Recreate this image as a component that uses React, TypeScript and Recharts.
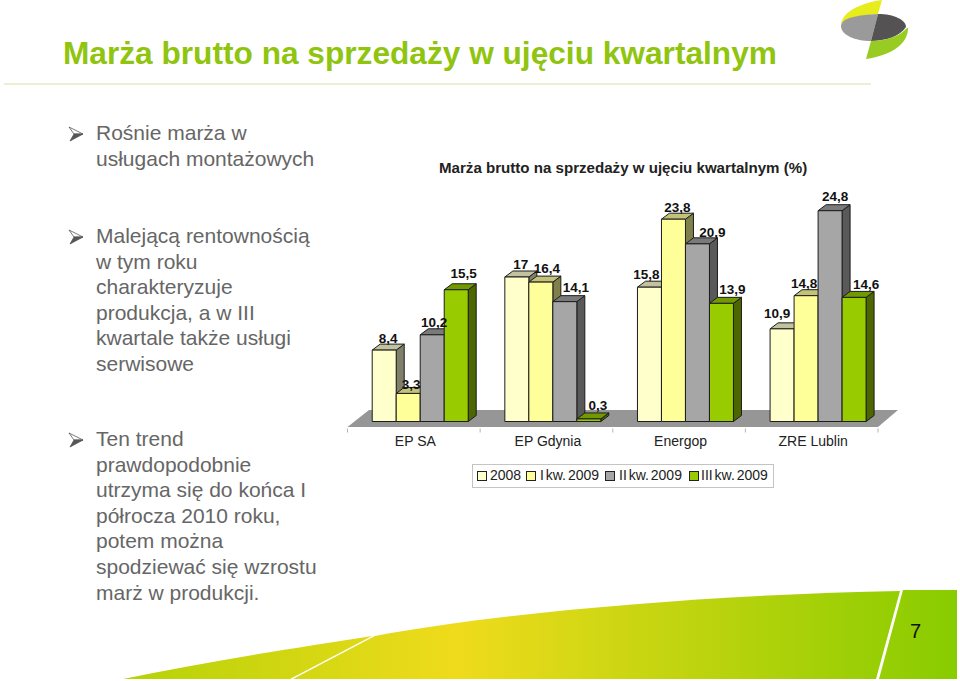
import React from "react";
import { Bar, BarChart, LabelList, XAxis, YAxis } from "recharts";

const TITLE = "Marża brutto na sprzedaży w ujęciu kwartalnym";
const CHART_TITLE = "Marża brutto na sprzedaży w ujęciu kwartalnym (%)";
const PAGE_NUMBER = "7";

const COMPANIES = ["EP SA", "EP Gdynia", "Energop", "ZRE Lublin"];
const SERIES_NAMES = ["2008", "I kw. 2009", "II kw. 2009", "III kw. 2009"];
const VALUES_2008 = [8.4, 17, 15.8, 10.9];
const VALUES_Q1 = [3.3, 16.4, 23.8, 14.8];
const VALUES_Q2 = [10.2, 14.1, 20.9, 24.8];
const VALUES_Q3 = [15.5, 0.3, 13.9, 14.6];

const BULLETS = [
  { y: 133, lines: ["Rośnie marża w", "usługach montażowych"] },
  {
    y: 236,
    lines: [
      "Malejącą rentownością",
      "w tym roku",
      "charakteryzuje",
      "produkcja, a w III",
      "kwartale także usługi",
      "serwisowe",
    ],
  },
  {
    y: 439,
    lines: [
      "Ten trend",
      "prawdopodobnie",
      "utrzyma się do końca I",
      "półrocza 2010 roku,",
      "potem można",
      "spodziewać się wzrostu",
      "marż w produkcji.",
    ],
  },
];

const FRONT = ["#FFFFCC", "#FFFF99", "#A6A6A6", "#99CC00"];
const SIDE = ["#80806A", "#80804D", "#595959", "#4D6600"];
const TOP = ["#C2C29E", "#C2C278", "#7A7A7A", "#739900"];

const FONT = "'Liberation Sans', Arial, sans-serif";
const DEPTH_X = 8;
const DEPTH_Y = 6;
const BAR_SHIFT = 6.8; // bars stand in the middle of the floor, right of the label centre

// hand placement of the value labels, [dx, dy] from the bar's top centre
const LABEL_NUDGE = [
  [[4, -12], [4, -13], [-3, -13], [-5, -15.6]],
  [[3, -9.5], [6, -14], [4, -12], [-2, -13]],
  [[2, -13], [11, -15], [15, -12], [5, -14.7]],
  [[7.5, -16.7], [9, -14], [11, -14], [12, -13]],
];

const chartData = COMPANIES.map((name, i) => ({
  name,
  s0: VALUES_2008[i],
  s1: VALUES_Q1[i],
  s2: VALUES_Q2[i],
  s3: VALUES_Q3[i],
}));

function Box3D(props: any) {
  const { x, y, width: w, height: h, series } = props;
  const left = x + BAR_SHIFT;
  const right = left + w;
  const bottom = y + h;
  return (
    <g stroke="#1c1c1c" strokeWidth={1} strokeLinejoin="round">
      <polygon
        points={`${right},${y} ${right + DEPTH_X},${y - DEPTH_Y} ${right + DEPTH_X},${bottom - DEPTH_Y} ${right},${bottom}`}
        fill={SIDE[series]}
      />
      <polygon
        points={`${left},${y} ${right},${y} ${right + DEPTH_X},${y - DEPTH_Y} ${left + DEPTH_X},${y - DEPTH_Y}`}
        fill={TOP[series]}
      />
      <rect x={left} y={y} width={w} height={h} fill={FRONT[series]} />
    </g>
  );
}

function CategoryTick(props: any) {
  const { x, y, payload, index } = props;
  const step = 132.6;
  const isLast = index === COMPANIES.length - 1;
  return (
    <g>
      <line x1={x - step / 2} x2={x - step / 2} y1={y - 1} y2={y + 3} stroke="#b5b5b5" />
      {isLast && (
        <line x1={x + step / 2} x2={x + step / 2} y1={y - 1} y2={y + 3} stroke="#b5b5b5" />
      )}
      <text
        x={x + 1.5}
        y={y + 16}
        textAnchor="middle"
        style={{ fontFamily: FONT, fontSize: 14, fill: "#222" }}
      >
        {payload.value}
      </text>
    </g>
  );
}

function valueLabel(series: number) {
  return function ValueLabel(props: any) {
    const { x, y, width, value, index } = props;
    const [dx, dy] = LABEL_NUDGE[series][index];
    return (
      <text
        x={x + BAR_SHIFT + width / 2 + dx}
        y={y + dy + 5}
        textAnchor="middle"
        style={{ fontFamily: FONT, fontSize: 13.5, fontWeight: 700, fill: "#111" }}
      >
        {String(value).replace(".", ",")}
      </text>
    );
  };
}

function Arrow({ y }: { y: number }) {
  return (
    <svg
      width={18}
      height={18}
      style={{ position: "absolute", left: 67, top: y - 8 }}
    >
      <polygon points="2,2 16,9 7,9" fill="#fff" stroke="#555" strokeWidth={0.8} />
      <polygon points="7,9 16,9 3,16" fill="#555" stroke="#555" strokeWidth={0.8} />
    </svg>
  );
}

function Decorations() {
  return (
    <svg
      width={960}
      height={681}
      style={{ position: "absolute", left: 0, top: 0 }}
    >
      <defs>
        <linearGradient id="swoosh" x1="123" x2="957" y1="0" y2="0" gradientUnits="userSpaceOnUse">
          <stop offset="0" stopColor="#b4d207" />
          <stop offset="0.4" stopColor="#efdb1c" />
          <stop offset="1" stopColor="#88cc00" />
        </linearGradient>
      </defs>
      <line x1={4} x2={871} y1={84} y2={84} stroke="#d3e4a4" strokeWidth={1.2} />
      {/* logo */}
      <path d="M882,0 C862,3 845,10 841,23 C848,19 862,15 878,14 Z" fill="#e7ec1c" />
      <path d="M878,14 C857,15 841,18 841,26 C841,35 855,41 871,41 Z" fill="#9a9a9a" />
      <path d="M878,14 C894,14 906,20 906,27 C900,36 886,41 871,41 Z" fill="#555254" />
      <path d="M908,28 C908,44 892,55 866,59 L871,41 C886,41 900,36 907,28 Z" fill="#99cc22" />
      {/* floor swoosh */}
      <path
        d="M123,679 C205,662 295,648 372,636 L290,679 Z"
        fill="url(#swoosh)"
      />
      <path
        d="M375,636 C500,612 720,594 900,591 L876,679 L293,679 Z"
        fill="url(#swoosh)"
      />
      <path d="M903,590 L957,590 L957,679 L879,679 Z" fill="url(#swoosh)" />
      {/* chart floor */}
      <polygon points="369,410 898,410 878,427 347.5,427" fill="#969696" />
    </svg>
  );
}

export default function App() {
  return (
    <div
      style={{
        position: "absolute",
        left: 0,
        top: 0,
        width: 960,
        height: 681,
        overflow: "hidden",
        background: "#fff",
        fontFamily: FONT,
      }}
    >
      <Decorations />
      <div
        style={{
          position: "absolute",
          left: 63,
          top: 35,
          fontSize: 31.65,
          fontWeight: 700,
          color: "#8fc40f",
          whiteSpace: "nowrap",
        }}
      >
        {TITLE}
      </div>
      {BULLETS.map((b) => (
        <React.Fragment key={b.y}>
          <Arrow y={b.y} />
          {b.lines.map((line, i) => (
            <div
              key={line}
              style={{
                position: "absolute",
                left: 96,
                top: b.y + i * 25.6 - 12,
                fontSize: 21,
                lineHeight: "24px",
                color: "#666",
                whiteSpace: "nowrap",
              }}
            >
              {line}
            </div>
          ))}
        </React.Fragment>
      ))}
      <div
        style={{
          position: "absolute",
          left: 439,
          top: 159,
          fontSize: 15.1,
          fontWeight: 700,
          color: "#222",
          whiteSpace: "nowrap",
        }}
      >
        {CHART_TITLE}
      </div>
      <div style={{ position: "absolute", left: 0, top: 0 }}>
        <BarChart
          width={960}
          height={681}
          data={chartData}
          margin={{ top: 166.5, right: 82, bottom: 229.5, left: 347.5 }}
          barCategoryGap="13.5%"
          barGap={0}
        >
          <YAxis hide domain={[0, 30]} />
          <XAxis
            dataKey="name"
            height={30}
            axisLine={false}
            tickLine={false}
            interval={0}
            tick={<CategoryTick />}
          />
          {[0, 1, 2, 3].map((s) => (
            <Bar
              key={s}
              dataKey={`s${s}`}
              name={SERIES_NAMES[s]}
              fill={FRONT[s]}
              isAnimationActive={false}
              shape={(p: any) => <Box3D {...p} series={s} />}
            >
              <LabelList dataKey={`s${s}`} content={valueLabel(s)} />
            </Bar>
          ))}
        </BarChart>
      </div>
      {/* legend */}
      <div
        style={{
          position: "absolute",
          left: 472,
          top: 464,
          width: 300,
          height: 22,
          border: "1px solid #c4c4c4",
          background: "#fff",
          fontSize: 14,
          color: "#222",
        }}
      >
        {SERIES_NAMES.map((name, i) => (
          <React.Fragment key={name}>
            <span
              style={{
                position: "absolute",
                left: [4, 53, 132, 216][i],
                top: 6,
                width: 8,
                height: 8,
                background: FRONT[i],
                border: "1px solid #222",
              }}
            />
            <span
              style={{
                position: "absolute",
                left: [17, 67, 146, 228][i],
                top: 2,
                whiteSpace: "nowrap",
                wordSpacing: -2,
              }}
            >
              {name}
            </span>
          </React.Fragment>
        ))}
      </div>
      <div
        style={{
          position: "absolute",
          left: 910,
          top: 620,
          fontSize: 20,
          color: "#111",
        }}
      >
        {PAGE_NUMBER}
      </div>
    </div>
  );
}
